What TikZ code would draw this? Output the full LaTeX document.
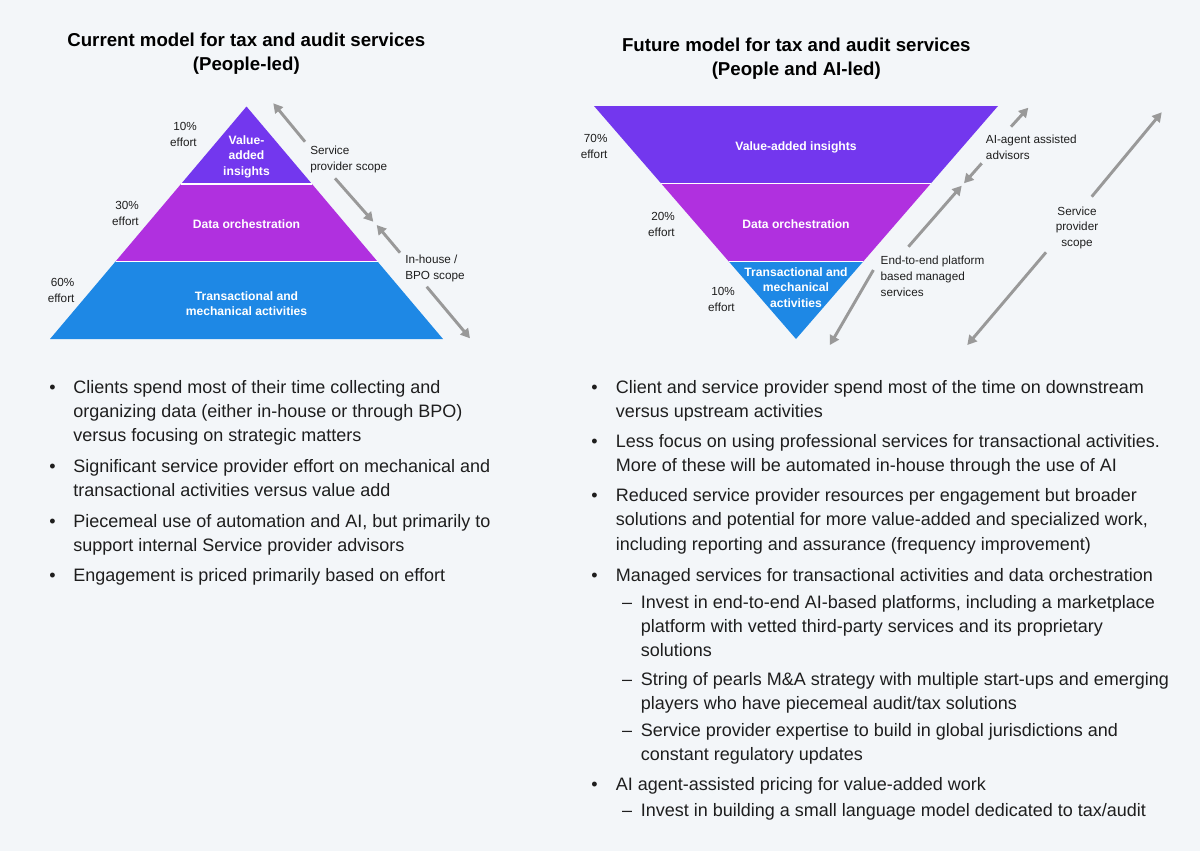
\documentclass[tikz,border=0pt]{standalone}
\usepackage{fontspec}
\setmainfont{Liberation Sans}
\usetikzlibrary{calc,arrows.meta}
\definecolor{bgpanel}{RGB}{243,246,249}
\definecolor{layervalue}{RGB}{115,55,238}
\definecolor{layerdata}{RGB}{176,48,223}
\definecolor{layertrans}{RGB}{30,136,229}
\definecolor{arrowgray}{RGB}{153,153,153}
\definecolor{bodytext}{RGB}{30,30,30}

\tikzset{
	titletext/.style={font=\fontsize{14}{17.5}\selectfont\bfseries, align=center, anchor=base, inner sep=0pt},
	layertext/.style={font=\fontsize{9.1}{11.6}\selectfont\bfseries, text=white, align=center, anchor=base, inner sep=0pt},
	efforttext/.style={font=\fontsize{8.8}{11.8}\selectfont, text=bodytext, align=right, anchor=base east, inner sep=0pt},
	scopetext/.style={font=\fontsize{8.8}{11.8}\selectfont, text=bodytext, align=left, anchor=base west, inner sep=0pt},
	bullettext/.style={font=\fontsize{13.5}{18.15}\selectfont, text=bodytext, align=left, anchor=base west, inner sep=0pt},
	bulletmark/.style={font=\fontsize{13.5}{18.15}\selectfont, text=bodytext, anchor=base, inner sep=0pt},
	sepline/.style={draw=white, line width=1.2pt},
	scopearrow/.style={draw=arrowgray, line width=2.2pt, -{Triangle[length=7pt,width=7.5pt]}},
}

\begin{document}
\begin{tikzpicture}[x=0.75pt,y=-0.75pt]
			\fill[bgpanel] (0,0) rectangle (1200,851);
			\useasboundingbox (0,0) rectangle (1200,851);
			
			\coordinate (ltop) at (246.5,106.5);
			\coordinate (lbl) at (50,339);
			\coordinate (lbr) at (443,339);
			\coordinate (l1l) at ($(ltop)!1/3!(lbl)$);
			\coordinate (l1r) at ($(ltop)!1/3!(lbr)$);
			\coordinate (l2l) at ($(ltop)!2/3!(lbl)$);
			\coordinate (l2r) at ($(ltop)!2/3!(lbr)$);
			\coordinate (rtl) at (594,106);
			\coordinate (rtr) at (998,106);
			\coordinate (rbot) at (796,339);
			\coordinate (r1l) at ($(rtl)!1/3!(rbot)$);
			\coordinate (r1r) at ($(rtr)!1/3!(rbot)$);
			\coordinate (r2l) at ($(rtl)!2/3!(rbot)$);
			\coordinate (r2r) at ($(rtr)!2/3!(rbot)$);
			
			\node (curtitle) at (246.3,70) [titletext] {Current model for tax and audit services\\(People-led)};
			\node (futtitle) at (796.3,75) [titletext] {Future model for tax and audit services\\(People and AI-led)};
			
			\fill[layervalue] (ltop) -- (l1r) -- (l1l) -- cycle;
			\fill[layerdata] (l1l) -- (l1r) -- (l2r) -- (l2l) -- cycle;
			\fill[layertrans] (l2l) -- (l2r) -- (lbr) -- (lbl) -- cycle;
			\draw[sepline] (l1l) -- (l1r);
			\draw[sepline] (l2l) -- (l2r);
			
			\fill[layervalue] (rtl) -- (rtr) -- (r1r) -- (r1l) -- cycle;
			\fill[layerdata] (r1l) -- (r1r) -- (r2r) -- (r2l) -- cycle;
			\fill[layertrans] (r2l) -- (r2r) -- (rbot) -- cycle;
			\draw[sepline] (r1l) -- (r1r);
			\draw[sepline] (r2l) -- (r2r);
			
			\node (lvalue) at (246.5,175.2) [layertext] {Value-\\added\\insights};
			\node (ldata) at (246.5,228.3) [layertext] {Data orchestration};
			\node (ltrans) at (246.5,315.5) [layertext] {Transactional and\\mechanical activities};
			\node (rvalue) at (796,150.6) [layertext] {Value-added insights};
			\node (rdata) at (796,228.5) [layertext] {Data orchestration};
			\node (rtrans) at (796,307.4) [layertext] {Transactional and\\mechanical\\activities};
			
			\node (leffa) at (197,146.7) [efforttext] {10\%\\effort};
			\node (leffb) at (139,225.7) [efforttext] {30\%\\effort};
			\node (leffc) at (74.7,302.4) [efforttext] {60\%\\effort};
			\node (reffa) at (607.7,158.3) [efforttext] {70\%\\effort};
			\node (reffb) at (675,236.2) [efforttext] {20\%\\effort};
			\node (reffc) at (735,311.1) [efforttext] {10\%\\effort};
			
			\node (lprov) at (310,170.7) [scopetext] {Service\\provider scope};
			\node (lhouse) at (405,279) [scopetext] {In-house /\\BPO scope};
			\node (ragent) at (985.7,159) [scopetext] {AI-agent assisted\\advisors};
			\node (rplat) at (880.4,296.3) [scopetext] {End-to-end platform\\based managed\\services};
			\node (rprov) at (1077,246.5) [scopetext, align=center, anchor=base] {Service\\provider\\scope};
			
			\coordinate (la1) at (305,141.7);
			\coordinate (la1t) at (273.3,103.3);
			\coordinate (la2) at (335,178.3);
			\coordinate (la2t) at (373.3,221.7);
			\coordinate (la3) at (400,252.7);
			\coordinate (la3t) at (376.7,225);
			\coordinate (la4) at (426.7,286.7);
			\coordinate (la4t) at (470,338.3);
			\coordinate (ra1) at (1011,126.7);
			\coordinate (ra1t) at (1028.3,107.7);
			\coordinate (ra2) at (981.7,163.3);
			\coordinate (ra2t) at (964,183.3);
			\coordinate (ra3) at (908.4,246.7);
			\coordinate (ra3t) at (961.7,185.7);
			\coordinate (ra4) at (873.4,270);
			\coordinate (ra4t) at (829.9,345);
			\coordinate (ra5) at (1091.7,196.7);
			\coordinate (ra5t) at (1161.7,112.3);
			\coordinate (ra6) at (1046,252.3);
			\coordinate (ra6t) at (967.3,345);
			
			\draw[scopearrow] (la1) -- (la1t);
			\draw[scopearrow] (la2) -- (la2t);
			\draw[scopearrow] (la3) -- (la3t);
			\draw[scopearrow] (la4) -- (la4t);
			\draw[scopearrow] (ra1) -- (ra1t);
			\draw[scopearrow] (ra2) -- (ra2t);
			\draw[scopearrow] (ra3) -- (ra3t);
			\draw[scopearrow] (ra4) -- (ra4t);
			\draw[scopearrow] (ra5) -- (ra5t);
			\draw[scopearrow] (ra6) -- (ra6t);
			
			\node (lbula) at (52.5,393.3) [bulletmark] {\textbullet};
			\node (lbulb) at (52.5,472.3) [bulletmark] {\textbullet};
			\node (lbulc) at (52.5,527.7) [bulletmark] {\textbullet};
			\node (lbuld) at (52.5,581) [bulletmark] {\textbullet};
			\node (litema) at (73,441.7) [bullettext] {Clients spend most of their time collecting and\\organizing data (either in-house or through BPO)\\versus focusing on strategic matters};
			\node (litemb) at (73,496.5) [bullettext] {Significant service provider effort on mechanical and\\transactional activities versus value add};
			\node (litemc) at (73,551.9) [bullettext] {Piecemeal use of automation and AI, but primarily to\\support internal Service provider advisors};
			\node (litemd) at (73,581) [bullettext] {Engagement is priced primarily based on effort};
			
			\node (rbula) at (594.5,393.3) [bulletmark] {\textbullet};
			\node (rbulb) at (594.5,447.7) [bulletmark] {\textbullet};
			\node (rbulc) at (594.5,501.7) [bulletmark] {\textbullet};
			\node (rbuld) at (594.5,581) [bulletmark] {\textbullet};
			\node (rbule) at (594.5,790.7) [bulletmark] {\textbullet};
			\node (rdasha) at (627,608.3) [bulletmark] {--};
			\node (rdashb) at (627,685.7) [bulletmark] {--};
			\node (rdashc) at (627,736) [bulletmark] {--};
			\node (rdashd) at (627,816.7) [bulletmark] {--};
			\node (ritema) at (615.5,417.5) [bullettext] {Client and service provider spend most of the time on downstream\\versus upstream activities};
			\node (ritemb) at (615.5,471.9) [bullettext] {Less focus on using professional services for transactional activities.\\More of these will be automated in-house through the use of AI};
			\node (ritemc) at (615.5,550.1) [bullettext] {Reduced service provider resources per engagement but broader\\solutions and potential for more value-added and specialized work,\\including reporting and assurance (frequency improvement)};
			\node (ritemd) at (615.5,581) [bullettext] {Managed services for transactional activities and data orchestration};
			\node (rsuba) at (640.5,656.7) [bullettext] {Invest in end-to-end AI-based platforms, including a marketplace\\platform with vetted third-party services and its proprietary\\solutions};
			\node (rsubb) at (640.5,709.9) [bullettext] {String of pearls M\&A strategy with multiple start-ups and emerging\\players who have piecemeal audit/tax solutions};
			\node (rsubc) at (640.5,760.2) [bullettext] {Service provider expertise to build in global jurisdictions and\\constant regulatory updates};
			\node (riteme) at (615.5,790.7) [bullettext] {AI agent-assisted pricing for value-added work};
			\node (rsubd) at (640.5,816.7) [bullettext] {Invest in building a small language model dedicated to tax/audit};
		\end{tikzpicture}
\end{document}
